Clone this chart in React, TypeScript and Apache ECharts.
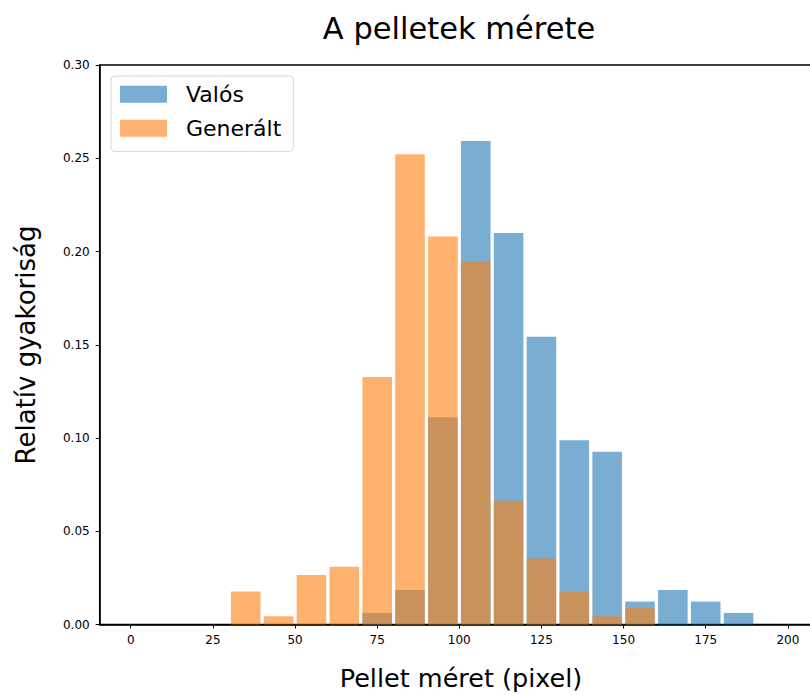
import React, { useEffect, useRef } from "react";
import * as echarts from "echarts";

const binStarts = [0, 10, 20, 30, 40, 50, 60, 70, 80, 90, 100, 110, 120, 130, 140, 150, 160, 170, 180, 190];
const binWidth = 10;
const valosValues = [0, 0, 0, 0, 0, 0, 0, 0.0062, 0.0185, 0.1111, 0.2593, 0.2099, 0.1543, 0.0988, 0.0926, 0.0123, 0.0185, 0.0123, 0.0062, 0];
const generaltValues = [0, 0, 0, 0.0177, 0.0044, 0.0265, 0.031, 0.1327, 0.2522, 0.208, 0.1947, 0.0664, 0.0354, 0.0177, 0.0044, 0.0088, 0, 0, 0, 0];
const xTickValues = [0, 25, 50, 75, 100, 125, 150, 175, 200];
const seriesNames = ["Valós", "Generált"];
const titleText = "A pelletek mérete";
const xAxisTitle = "Pellet méret (pixel)";
const yAxisTitle = "Relatív gyakoriság";

const FONT = "DejaVu Sans";
const RWIDTH = 0.9;

function buildData(values: number[]) {
  const pad = (binWidth * (1 - RWIDTH)) / 2;
  return values
    .map((v, i) => [binStarts[i] + pad, binStarts[i] + binWidth - pad, v])
    .filter((d) => d[2] > 0);
}

function makeSeries(name: string, values: number[], color: string) {
  return {
    name,
    type: "custom",
    data: buildData(values),
    encode: { x: [0, 1], y: 2 },
    itemStyle: { color },
    renderItem: (params: any, api: any) => {
      const p0 = api.coord([api.value(0), api.value(2)]);
      const p1 = api.coord([api.value(1), 0]);
      return {
        type: "rect",
        shape: { x: p0[0], y: p0[1], width: p1[0] - p0[0], height: p1[1] - p0[1] },
        style: { fill: color },
      };
    },
  };
}

export default function App() {
  const ref = useRef<HTMLDivElement>(null);
  useEffect(() => {
    if (!ref.current) return;
    const chart = echarts.init(ref.current, null, { renderer: "svg" });
    const gridLeft = 99.7;
    const gridTop = 65;
    const gridWidth = 719.2;
    const gridHeight = 559.5;
    chart.setOption({
      animation: false,
      backgroundColor: "#ffffff",
      textStyle: { fontFamily: FONT },
      grid: {
        left: gridLeft,
        top: gridTop,
        width: gridWidth,
        height: gridHeight,
        outerBoundsMode: "none",
        containLabel: false,
        show: true,
        borderColor: "#000",
        borderWidth: 1.5,
        backgroundColor: "transparent",
      },
      xAxis: {
        type: "value",
        min: -9.45,
        max: 209.45,
        splitLine: { show: false },
        axisLine: { show: true, onZero: false, lineStyle: { color: "#000", width: 1.5 } },
        axisTick: { show: true, length: 4, lineStyle: { color: "#000", width: 1 }, customValues: xTickValues },
        axisLabel: {
          color: "#000",
          fontSize: 12,
          fontFamily: FONT,
          margin: 9,
          customValues: xTickValues,
          formatter: (v: number) => String(v),
        },
      },
      yAxis: {
        type: "value",
        min: 0,
        max: 0.3,
        interval: 0.05,
        splitLine: { show: false },
        axisLine: { show: true, onZero: false, lineStyle: { color: "#000", width: 1.5 } },
        axisTick: { show: true, length: 4, lineStyle: { color: "#000", width: 1 } },
        axisLabel: {
          color: "#000",
          fontSize: 12,
          fontFamily: FONT,
          margin: 10,
          formatter: (v: number) => v.toFixed(2),
        },
      },
      legend: {
        show: true,
        orient: "vertical",
        left: 111,
        top: 76,
        padding: [7.2, 12, 12.4, 9],
        itemWidth: 47,
        itemHeight: 17,
        itemGap: 12,
        borderColor: "#d6d6d6",
        borderWidth: 1,
        borderRadius: 4,
        backgroundColor: "rgba(255,255,255,0.8)",
        data: seriesNames.map((n) => ({ name: n, icon: "rect" })),
        textStyle: {
          fontSize: 22,
          lineHeight: 22,
          fontFamily: FONT,
          color: "#000",
          padding: [0, 0, 0, 14],
        },
      },
      graphic: [
        {
          type: "text",
          x: 459,
          y: 28,
          style: {
            text: titleText,
            fontSize: 30.5,
            fontFamily: FONT,
            fill: "#000",
            textAlign: "center",
            textVerticalAlign: "middle",
          },
        },
        {
          type: "text",
          x: 461,
          y: 678,
          style: {
            text: xAxisTitle,
            fontSize: 25.5,
            fontFamily: FONT,
            fill: "#000",
            textAlign: "center",
            textVerticalAlign: "middle",
          },
        },
        {
          type: "text",
          x: 26,
          y: 345,
          rotation: Math.PI / 2,
          style: {
            text: yAxisTitle,
            fontSize: 26,
            fontFamily: FONT,
            fill: "#000",
            textAlign: "center",
            textVerticalAlign: "middle",
          },
        },
      ],
      series: [
        makeSeries(seriesNames[0], valosValues, "rgba(31,119,180,0.6)"),
        makeSeries(seriesNames[1], generaltValues, "rgba(255,127,14,0.6)"),
      ],
    });
    return () => chart.dispose();
  }, []);
  return (
    <div
      ref={ref}
      style={{ position: "absolute", left: 0, top: 0, width: 810, height: 695 }}
    />
  );
}
